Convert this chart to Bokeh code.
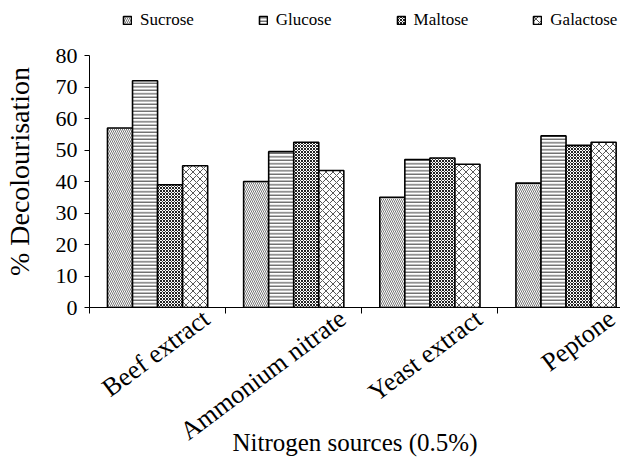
from bokeh.plotting import figure
from bokeh.models import Range1d, FixedTicker, Legend, LegendItem, ColumnDataSource
from bokeh.embed import file_html
from bokeh.resources import INLINE

categories = ["Beef extract", "Ammonium nitrate", "Yeast extract", "Peptone"]
series_names = ["Sucrose", "Glucose", "Maltose", "Galactose"]
sucrose = [57, 40, 35, 39.5]
glucose = [72, 49.5, 47, 54.5]
maltose = [39, 52.5, 47.5, 51.5]
galactose = [45, 43.5, 45.5, 52.5]
y_ticks = [0, 10, 20, 30, 40, 50, 60, 70, 80]

series = [sucrose, glucose, maltose, galactose]
styles = [
    dict(hatch_pattern="\\", hatch_scale=4, hatch_weight=0.8, hatch_color="#555555"),
    dict(hatch_pattern="-", hatch_scale=3.5, hatch_weight=1, hatch_color="#333333"),
    dict(hatch_pattern="x", hatch_scale=3, hatch_weight=1, hatch_color="#222222"),
    dict(hatch_pattern="x", hatch_scale=7, hatch_weight=0.9, hatch_color="#444444"),
]

FONT = "Liberation Serif"
bar_w = 0.184

p = figure(width=620, height=459, output_backend="svg", toolbar_location=None,
           x_range=Range1d(0, 3.9), y_range=Range1d(0, 97.5),
           min_border_left=79, min_border_right=0, min_border_top=0,
           min_border_bottom=0)
p.outline_line_color = None
p.xgrid.visible = False
p.ygrid.visible = False

renderers = []
for j, (name, vals, st) in enumerate(zip(series_names, series, styles)):
    xs = [i + 0.5 + (j - 1.5) * bar_w for i in range(len(categories))]
    src = ColumnDataSource(dict(x=xs, top=vals))
    r = p.vbar(x="x", top="top", width=bar_w, source=src, fill_color="white",
               line_color="black", line_width=1.6, **st)
    renderers.append(r)

label_pos = [i + 0.86 for i in range(len(categories))]
p.xaxis.ticker = FixedTicker(ticks=label_pos, minor_ticks=[0, 1, 2, 3, 4])
p.xaxis.major_label_overrides = {pos: c for pos, c in zip(label_pos, categories)}
p.xaxis.major_tick_line_color = None
p.xaxis.major_tick_out = 0
p.xaxis.major_tick_in = 0
p.xaxis.minor_tick_out = 6
p.xaxis.minor_tick_in = 0
p.xaxis.minor_tick_line_color = "black"
p.xaxis.major_label_orientation = 0.64
p.xaxis.major_label_standoff = 2
p.xaxis.axis_label = "Nitrogen sources (0.5%)"
p.xaxis.axis_label_standoff = -31
p.xaxis.major_label_text_font_size = "26px"
p.xaxis.axis_label_text_font_size = "25px"

p.yaxis.ticker = FixedTicker(ticks=y_ticks)
p.yaxis.bounds = (0, 80)
p.yaxis.minor_tick_line_color = None
p.yaxis.major_tick_out = 5
p.yaxis.major_tick_in = 0
p.yaxis.axis_label = "% Decolourisation\u00a0\u00a0\u00a0\u00a0\u00a0"
p.yaxis.axis_label_standoff = 18
p.yaxis.major_label_standoff = 7
p.yaxis.major_label_text_font_size = "22px"
p.yaxis.axis_label_text_font_size = "28px"

for ax in (p.xaxis, p.yaxis):
    ax.axis_line_color = "black"
    ax.axis_line_width = 1
    ax.major_label_text_font = FONT
    ax.major_label_text_color = "black"
    ax.axis_label_text_font = FONT
    ax.axis_label_text_font_style = "normal"
    ax.axis_label_text_color = "black"

legend = Legend(items=[LegendItem(label=n, renderers=[r]) for n, r in zip(series_names, renderers)],
                orientation="horizontal", location=(33, 277),
                label_text_font=FONT, label_text_font_size="17px",
                label_text_color="black",
                glyph_width=10, glyph_height=10, label_standoff=8, spacing=64,
                padding=0, margin=0, border_line_color=None,
                background_fill_alpha=0)
p.add_layout(legend, "center")

open("out.html", "w").write(file_html(p, INLINE))
